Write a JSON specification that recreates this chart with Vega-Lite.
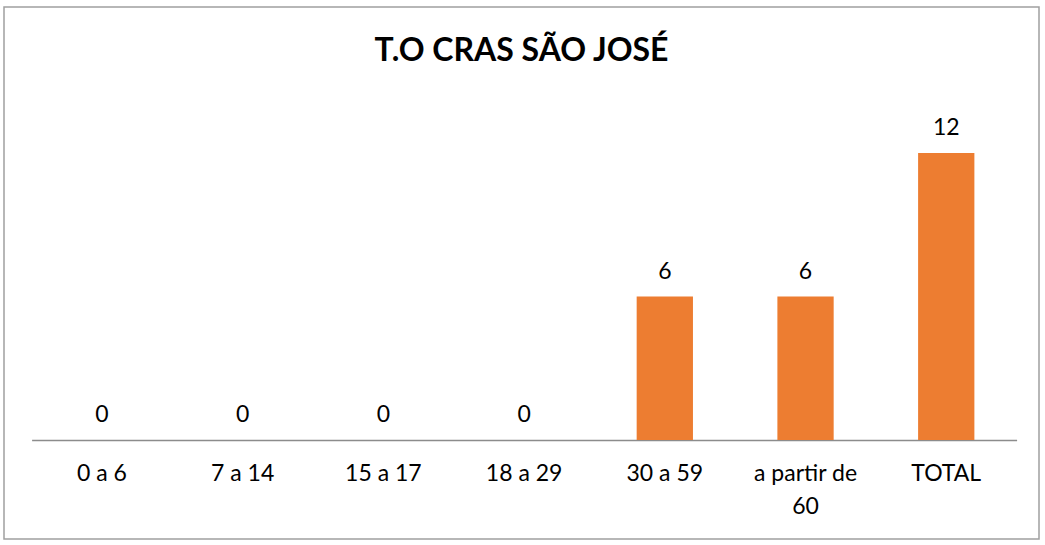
{
  "$schema": "https://vega.github.io/schema/vega-lite/v6.json",
  "autosize": {"type": "none"},
  "width": 1035,
  "height": 532,
  "padding": {"left": 4, "top": 7, "right": 6, "bottom": 6},
  "background": "white",
  "config": {
    "view": {"stroke": "#a0a0a0", "strokeWidth": 1.5},
    "font": "Lato"
  },
  "title": {
    "text": "T.O CRAS SÃO JOSÉ",
    "font": "Lato",
    "fontSize": 32,
    "fontWeight": "bold",
    "color": "#000000",
    "anchor": "middle",
    "baseline": "alphabetic",
    "offset": -86
  },
  "data": {
    "values": [
      {"faixa": "0 a 6", "valor": 0},
      {"faixa": "7 a 14", "valor": 0},
      {"faixa": "15 a 17", "valor": 0},
      {"faixa": "18 a 29", "valor": 0},
      {"faixa": "30 a 59", "valor": 6},
      {"faixa": "a partir de 60", "valor": 6},
      {"faixa": "TOTAL", "valor": 12}
    ]
  },
  "encoding": {
    "x": {
      "field": "faixa",
      "type": "nominal",
      "sort": null,
      "scale": {"range": [27.6, 1012.6], "paddingInner": 0.6, "paddingOuter": 0.3},
      "axis": {
        "title": null,
        "labelAngle": 0,
        "ticks": false,
        "offset": -99,
        "domainColor": "#8c8c8c",
        "domainWidth": 1.5,
        "labelFont": "Lato",
        "labelFontSize": 23,
        "labelColor": "#000000",
        "labelBaseline": "alphabetic",
        "labelPadding": 40,
        "labelLineHeight": 33,
        "labelExpr": "datum.label == 'a partir de 60' ? ['a partir de', '60'] : datum.label"
      }
    },
    "y": {
      "field": "valor",
      "type": "quantitative",
      "scale": {"domain": [0, 12], "range": [433, 146], "nice": false, "zero": true},
      "axis": null
    }
  },
  "layer": [
    {"mark": {"type": "bar", "color": "#ED7D31"}},
    {
      "mark": {"type": "text", "baseline": "alphabetic", "dy": -18, "fontSize": 23, "font": "Lato", "color": "#000000"},
      "encoding": {"text": {"field": "valor", "type": "quantitative"}}
    }
  ]
}
